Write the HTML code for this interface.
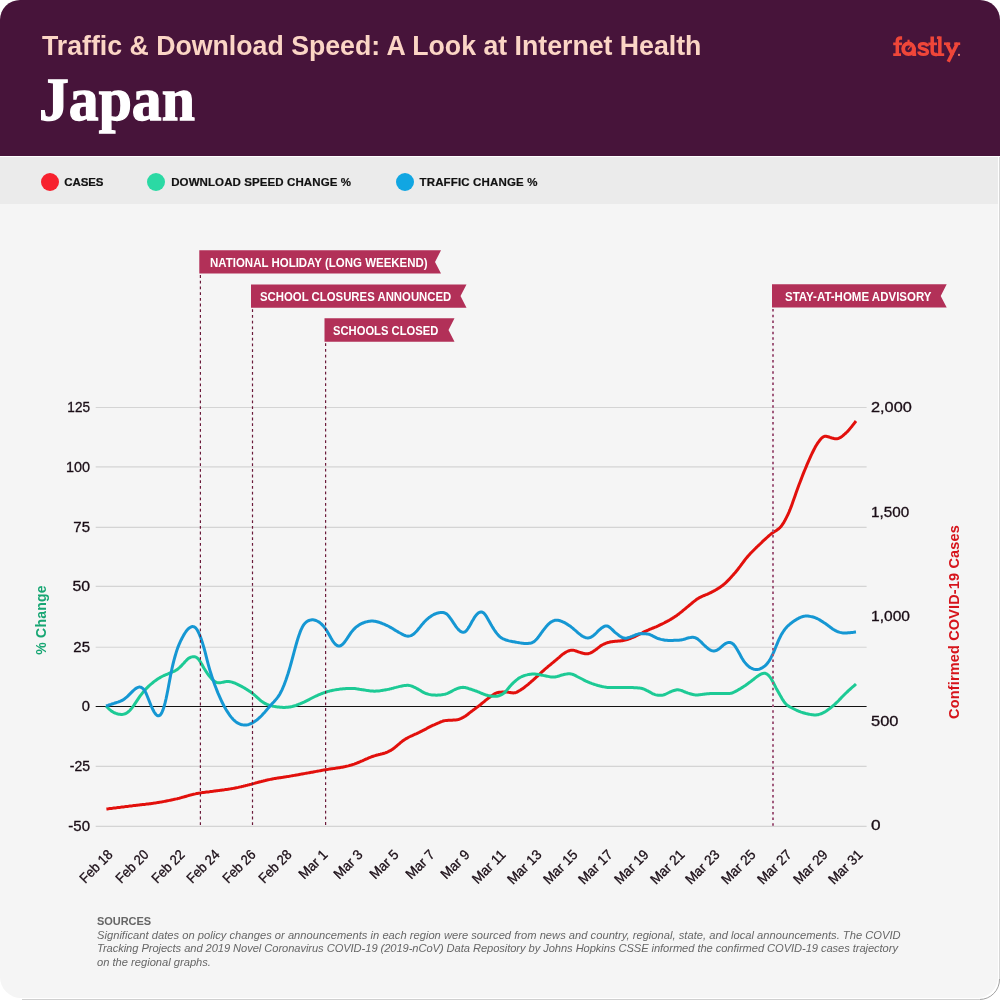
<!DOCTYPE html>
<html><head><meta charset="utf-8"><title>Japan</title>
<style>
html,body{margin:0;padding:0;background:#fff;}
body{width:1000px;height:1000px;position:relative;overflow:hidden;font-family:"Liberation Sans",sans-serif;}
.card{position:absolute;left:0;top:0;width:999px;height:993px;background:#f5f5f5;border-radius:20px;overflow:hidden;}
.hdr{position:absolute;left:0;top:0;width:1000px;height:156px;background:#47143a;border-radius:20px 20px 0 0;}
.leg{position:absolute;left:0;top:157px;width:998px;height:47.3px;background:#ebebeb;}
.t{position:absolute;white-space:nowrap;line-height:1;}
.title{left:42px;top:31px;font-size:28.5px;font-weight:bold;color:#fbd5c5;transform-origin:0 0;transform:scaleX(0.9365);}
.japan{left:39.3px;top:68.2px;font-family:"Liberation Serif",serif;font-size:62px;font-weight:bold;color:#fff;transform-origin:0 0;transform:scaleX(0.962);-webkit-text-stroke:1.3px #fff;}
.logo{left:892px;top:34px;font-size:27px;font-weight:bold;color:#ef4639;letter-spacing:-0.4px;}
.dot{position:absolute;width:18px;height:18px;border-radius:50%;top:173px;}
.lt{top:176.6px;font-size:11.5px;font-weight:bold;color:#111;-webkit-text-stroke:0.2px #111;}
.yl{font-size:14px;color:#1a0d16;-webkit-text-stroke:0.3px #1a0d16;text-align:right;width:60px;left:30px;}
.yr{font-size:14px;color:#1a0d16;-webkit-text-stroke:0.3px #1a0d16;left:870.6px;}
.xl{font-size:14px;color:#1a0d16;-webkit-text-stroke:0.3px #1a0d16;transform-origin:100% 50%;text-align:right;width:80px;}
.fl{font-size:12px;font-weight:bold;color:#fff;transform-origin:0 50%;}
.src{left:97px;color:#666;font-size:11.15px;}
</style></head><body>
<div class="hdr"></div>
<div class="card" style="top:157px;width:998px;height:841px;border-radius:0 0 21px 21px;"></div>
<div class="leg"></div>
<div style="position:absolute;left:999px;top:157px;width:1px;height:822px;background:#d6d6d6"></div>
<div style="position:absolute;left:22px;top:999px;width:957px;height:1px;background:#cfcfcf"></div>

<svg width="1000" height="1000" viewBox="0 0 1000 1000" style="position:absolute;left:0;top:0">
<line x1="95.7" x2="866.6" y1="407.50" y2="407.50" stroke="#d4d4d4" stroke-width="1.1"/>
<line x1="95.7" x2="866.6" y1="466.90" y2="466.90" stroke="#d4d4d4" stroke-width="1.1"/>
<line x1="95.7" x2="866.6" y1="527.40" y2="527.40" stroke="#d4d4d4" stroke-width="1.1"/>
<line x1="95.7" x2="866.6" y1="586.40" y2="586.40" stroke="#d4d4d4" stroke-width="1.1"/>
<line x1="95.7" x2="866.6" y1="647.20" y2="647.20" stroke="#d4d4d4" stroke-width="1.1"/>
<line x1="95.7" x2="866.6" y1="706.50" y2="706.50" stroke="#111" stroke-width="1"/>
<line x1="95.7" x2="866.6" y1="766.40" y2="766.40" stroke="#d4d4d4" stroke-width="1.1"/>
<line x1="95.7" x2="866.6" y1="826.40" y2="826.40" stroke="#d4d4d4" stroke-width="1.1"/>
<path d="M106.4,809.0L107.4,808.9L108.4,808.8L109.4,808.6L110.4,808.5L111.4,808.4L112.4,808.3L113.4,808.1L114.4,808.0L115.4,807.9L116.4,807.8L117.4,807.6L118.4,807.5L119.4,807.4L120.4,807.3L121.4,807.1L122.4,807.0L123.4,806.9L124.4,806.8L125.4,806.6L126.4,806.5L127.4,806.4L128.4,806.3L129.4,806.1L130.4,806.0L131.4,805.9L132.4,805.8L133.4,805.6L134.4,805.5L135.4,805.4L136.4,805.3L137.4,805.2L138.4,805.1L139.4,804.9L140.4,804.8L141.4,804.7L142.4,804.6L143.4,804.5L144.4,804.4L145.4,804.3L146.4,804.1L147.4,804.0L148.4,803.9L149.4,803.8L150.4,803.7L151.4,803.5L152.4,803.4L153.4,803.2L154.4,803.1L155.4,802.9L156.4,802.8L157.4,802.6L158.4,802.5L159.4,802.3L160.4,802.1L161.4,801.9L162.4,801.8L163.4,801.6L164.4,801.4L165.4,801.2L166.4,801.0L167.4,800.8L168.4,800.6L169.4,800.4L170.4,800.2L171.4,800.0L172.4,799.8L173.4,799.6L174.4,799.3L175.4,799.1L176.4,798.9L177.4,798.7L178.4,798.4L179.4,798.2L180.4,797.9L181.4,797.6L182.4,797.3L183.4,797.1L184.4,796.8L185.4,796.5L186.4,796.2L187.4,795.9L188.4,795.6L189.4,795.3L190.4,795.1L191.4,794.8L192.4,794.6L193.4,794.3L194.4,794.1L195.4,793.9L196.4,793.6L197.4,793.5L198.4,793.3L199.4,793.1L200.3,792.9L201.3,792.8L202.3,792.6L203.3,792.5L204.3,792.4L205.3,792.2L206.3,792.1L207.3,792.0L208.3,791.9L209.3,791.8L210.3,791.6L211.3,791.5L212.3,791.4L213.3,791.2L214.3,791.1L215.3,791.0L216.3,790.8L217.3,790.7L218.3,790.6L219.3,790.4L220.3,790.3L221.3,790.2L222.3,790.0L223.3,789.9L224.3,789.8L225.3,789.6L226.3,789.5L227.3,789.4L228.3,789.2L229.3,789.1L230.3,788.9L231.3,788.7L232.3,788.6L233.3,788.4L234.3,788.2L235.3,788.0L236.3,787.8L237.3,787.6L238.3,787.4L239.3,787.1L240.3,786.9L241.3,786.7L242.3,786.4L243.3,786.2L244.3,785.9L245.3,785.7L246.3,785.4L247.3,785.2L248.3,784.9L249.3,784.7L250.3,784.4L251.3,784.2L252.3,783.9L253.3,783.6L254.3,783.4L255.3,783.1L256.3,782.8L257.3,782.6L258.3,782.3L259.3,782.0L260.3,781.7L261.3,781.5L262.3,781.2L263.3,781.0L264.3,780.7L265.3,780.5L266.3,780.2L267.3,780.0L268.3,779.8L269.3,779.6L270.3,779.4L271.3,779.2L272.3,779.0L273.3,778.8L274.3,778.6L275.3,778.5L276.3,778.3L277.3,778.1L278.3,778.0L279.3,777.8L280.3,777.7L281.3,777.5L282.3,777.4L283.3,777.2L284.3,777.0L285.3,776.9L286.3,776.7L287.3,776.6L288.3,776.4L289.3,776.3L290.3,776.1L291.3,775.9L292.3,775.7L293.3,775.6L294.3,775.4L295.3,775.2L296.3,775.0L297.3,774.9L298.3,774.7L299.3,774.5L300.3,774.3L301.3,774.1L302.3,774.0L303.3,773.8L304.3,773.6L305.3,773.4L306.3,773.2L307.3,773.1L308.3,772.9L309.3,772.7L310.3,772.5L311.3,772.3L312.3,772.2L313.3,772.0L314.3,771.8L315.3,771.6L316.3,771.4L317.3,771.2L318.3,771.1L319.3,770.9L320.3,770.7L321.3,770.5L322.3,770.3L323.3,770.1L324.3,770.0L325.3,769.8L326.3,769.6L327.3,769.4L328.3,769.3L329.3,769.1L330.3,769.0L331.3,768.8L332.3,768.7L333.3,768.6L334.3,768.4L335.3,768.3L336.3,768.1L337.3,768.0L338.3,767.8L339.3,767.7L340.3,767.5L341.3,767.3L342.3,767.2L343.3,767.0L344.3,766.8L345.3,766.6L346.3,766.3L347.3,766.1L348.3,765.9L349.3,765.6L350.3,765.3L351.3,765.1L352.3,764.7L353.3,764.4L354.3,764.1L355.3,763.7L356.3,763.3L357.3,762.9L358.3,762.5L359.3,762.1L360.3,761.7L361.3,761.2L362.3,760.8L363.3,760.3L364.3,759.9L365.3,759.4L366.3,759.0L367.3,758.6L368.3,758.1L369.3,757.7L370.3,757.3L371.3,756.9L372.3,756.5L373.3,756.2L374.3,755.9L375.3,755.6L376.3,755.3L377.3,755.0L378.3,754.8L379.3,754.5L380.3,754.3L381.3,754.0L382.3,753.8L383.3,753.5L384.3,753.2L385.3,752.9L386.3,752.5L387.3,752.1L388.2,751.7L389.2,751.2L390.2,750.7L391.2,750.1L392.2,749.4L393.2,748.7L394.2,748.0L395.2,747.2L396.2,746.3L397.2,745.5L398.2,744.6L399.2,743.8L400.2,742.9L401.2,742.1L402.2,741.3L403.2,740.6L404.2,739.9L405.2,739.3L406.2,738.6L407.2,738.1L408.2,737.5L409.2,737.0L410.2,736.5L411.2,736.0L412.2,735.6L413.2,735.1L414.2,734.7L415.2,734.2L416.2,733.8L417.2,733.3L418.2,732.8L419.2,732.4L420.2,731.9L421.2,731.4L422.2,730.9L423.2,730.3L424.2,729.8L425.2,729.3L426.2,728.8L427.2,728.2L428.2,727.7L429.2,727.2L430.2,726.7L431.2,726.2L432.2,725.7L433.2,725.2L434.2,724.8L435.2,724.3L436.2,723.9L437.2,723.5L438.2,723.0L439.2,722.6L440.2,722.1L441.2,721.7L442.2,721.4L443.2,721.0L444.2,720.8L445.2,720.6L446.2,720.4L447.2,720.4L448.2,720.3L449.2,720.3L450.2,720.2L451.2,720.2L452.2,720.2L453.2,720.1L454.2,720.1L455.2,720.0L456.2,719.9L457.2,719.7L458.2,719.5L459.2,719.2L460.2,718.8L461.2,718.4L462.2,717.9L463.2,717.4L464.2,716.8L465.2,716.2L466.2,715.5L467.2,714.8L468.2,714.0L469.2,713.2L470.2,712.4L471.2,711.6L472.2,710.9L473.2,710.1L474.2,709.4L475.2,708.6L476.2,707.9L477.2,707.1L478.2,706.4L479.2,705.6L480.2,704.8L481.2,704.0L482.2,703.2L483.2,702.4L484.2,701.6L485.2,700.7L486.2,699.9L487.2,699.1L488.2,698.3L489.2,697.6L490.2,696.9L491.2,696.1L492.2,695.4L493.2,694.7L494.2,694.1L495.2,693.5L496.2,693.1L497.2,692.7L498.2,692.5L499.2,692.3L500.2,692.2L501.2,692.2L502.2,692.1L503.2,692.1L504.2,692.0L505.2,692.0L506.2,692.1L507.2,692.1L508.2,692.2L509.2,692.4L510.2,692.5L511.2,692.7L512.2,692.8L513.2,692.9L514.2,692.8L515.2,692.7L516.2,692.4L517.2,692.0L518.2,691.4L519.2,690.8L520.2,690.2L521.2,689.5L522.2,688.9L523.2,688.2L524.2,687.5L525.2,686.7L526.2,685.9L527.2,685.1L528.2,684.3L529.2,683.4L530.2,682.6L531.2,681.7L532.2,680.8L533.2,680.0L534.2,679.1L535.2,678.2L536.2,677.2L537.2,676.3L538.2,675.4L539.2,674.4L540.2,673.5L541.2,672.6L542.2,671.7L543.2,670.8L544.2,669.9L545.2,669.0L546.2,668.1L547.2,667.3L548.2,666.4L549.2,665.6L550.2,664.8L551.2,664.0L552.2,663.1L553.2,662.3L554.2,661.5L555.2,660.7L556.2,659.8L557.2,659.0L558.2,658.1L559.2,657.3L560.2,656.4L561.2,655.5L562.2,654.7L563.2,653.9L564.2,653.2L565.2,652.6L566.2,652.0L567.2,651.5L568.2,651.0L569.2,650.7L570.2,650.4L571.2,650.2L572.2,650.2L573.2,650.2L574.2,650.4L575.1,650.7L576.1,651.0L577.1,651.4L578.1,651.8L579.1,652.1L580.1,652.4L581.1,652.7L582.1,653.0L583.1,653.3L584.1,653.5L585.1,653.7L586.1,653.8L587.1,653.8L588.1,653.7L589.1,653.4L590.1,653.1L591.1,652.6L592.1,652.1L593.1,651.5L594.1,650.8L595.1,650.2L596.1,649.4L597.1,648.7L598.1,647.9L599.1,647.1L600.1,646.3L601.1,645.6L602.1,645.0L603.1,644.5L604.1,644.0L605.1,643.6L606.1,643.2L607.1,642.8L608.1,642.5L609.1,642.3L610.1,642.0L611.1,641.8L612.1,641.7L613.1,641.5L614.1,641.4L615.1,641.3L616.1,641.3L617.1,641.2L618.1,641.1L619.1,641.0L620.1,641.0L621.1,640.8L622.1,640.7L623.1,640.5L624.1,640.3L625.1,640.1L626.1,639.8L627.1,639.5L628.1,639.2L629.1,638.9L630.1,638.5L631.1,638.1L632.1,637.7L633.1,637.3L634.1,636.9L635.1,636.5L636.1,636.0L637.1,635.5L638.1,635.0L639.1,634.5L640.1,634.0L641.1,633.5L642.1,633.0L643.1,632.4L644.1,631.9L645.1,631.4L646.1,631.0L647.1,630.5L648.1,630.1L649.1,629.6L650.1,629.2L651.1,628.8L652.1,628.4L653.1,628.0L654.1,627.6L655.1,627.2L656.1,626.8L657.1,626.3L658.1,625.9L659.1,625.4L660.1,624.9L661.1,624.4L662.1,624.0L663.1,623.5L664.1,623.0L665.1,622.4L666.1,621.9L667.1,621.4L668.1,620.8L669.1,620.3L670.1,619.7L671.1,619.1L672.1,618.5L673.1,617.9L674.1,617.3L675.1,616.6L676.1,615.9L677.1,615.2L678.1,614.4L679.1,613.7L680.1,612.9L681.1,612.1L682.1,611.3L683.1,610.4L684.1,609.6L685.1,608.8L686.1,608.0L687.1,607.1L688.1,606.3L689.1,605.5L690.1,604.7L691.1,603.8L692.1,603.0L693.1,602.2L694.1,601.4L695.1,600.6L696.1,599.8L697.1,599.1L698.1,598.5L699.1,597.9L700.1,597.3L701.1,596.8L702.1,596.3L703.1,595.9L704.1,595.5L705.1,595.1L706.1,594.7L707.1,594.3L708.1,593.8L709.1,593.4L710.1,592.9L711.1,592.5L712.1,591.9L713.1,591.4L714.1,590.8L715.1,590.3L716.1,589.7L717.1,589.1L718.1,588.5L719.1,587.9L720.1,587.2L721.1,586.5L722.1,585.8L723.1,585.0L724.1,584.2L725.1,583.3L726.1,582.4L727.1,581.4L728.1,580.4L729.1,579.4L730.1,578.3L731.1,577.2L732.1,576.1L733.1,575.0L734.1,573.8L735.1,572.7L736.1,571.5L737.1,570.3L738.1,569.0L739.1,567.7L740.1,566.4L741.1,565.0L742.1,563.7L743.1,562.3L744.1,561.0L745.1,559.7L746.1,558.4L747.1,557.2L748.1,556.0L749.1,554.9L750.1,553.8L751.1,552.7L752.1,551.7L753.1,550.7L754.1,549.7L755.1,548.7L756.1,547.7L757.1,546.8L758.1,545.8L759.1,544.9L760.1,544.0L761.1,543.0L762.1,542.1L763.0,541.1L764.0,540.2L765.0,539.3L766.0,538.4L767.0,537.5L768.0,536.6L769.0,535.7L770.0,534.9L771.0,534.0L772.0,533.3L773.0,532.5L774.0,531.9L775.0,531.3L776.0,530.7L777.0,530.0L778.0,529.3L779.0,528.5L780.0,527.6L781.0,526.5L782.0,525.2L783.0,523.7L784.0,522.1L785.0,520.3L786.0,518.4L787.0,516.4L788.0,514.3L789.0,512.1L790.0,509.7L791.0,507.1L792.0,504.4L793.0,501.6L794.0,498.8L795.0,495.9L796.0,493.0L797.0,490.2L798.0,487.5L799.0,484.8L800.0,482.2L801.0,479.6L802.0,477.0L803.0,474.4L804.0,471.9L805.0,469.5L806.0,467.1L807.0,464.7L808.0,462.4L809.0,460.1L810.0,457.9L811.0,455.7L812.0,453.5L813.0,451.5L814.0,449.5L815.0,447.6L816.0,445.8L817.0,444.2L818.0,442.7L819.0,441.3L820.0,439.9L821.0,438.8L822.0,437.8L823.0,437.0L824.0,436.5L825.0,436.3L826.0,436.3L827.0,436.5L828.0,436.7L829.0,437.0L830.0,437.4L831.0,437.7L832.0,438.0L833.0,438.2L834.0,438.5L835.0,438.7L836.0,438.8L837.0,438.8L838.0,438.6L839.0,438.2L840.0,437.7L841.0,437.1L842.0,436.4L843.0,435.6L844.0,434.7L845.0,433.9L846.0,432.9L847.0,432.0L848.0,430.9L849.0,429.8L850.0,428.6L851.0,427.4L852.0,426.2L853.0,424.9L854.0,423.6L855.0,422.3L856.0,421.0" fill="none" stroke="#e2100c" stroke-width="3" stroke-linecap="butt" stroke-linejoin="round"/>
<path d="M106.0,706.0L107.0,707.0L108.0,708.0L109.0,709.0L110.0,709.9L111.0,710.7L112.0,711.4L113.0,712.0L114.0,712.6L115.0,713.0L116.0,713.4L117.0,713.7L118.0,714.0L119.0,714.2L120.0,714.3L121.0,714.4L122.0,714.4L123.0,714.3L124.0,714.1L125.0,713.8L126.0,713.4L127.0,712.8L128.0,712.1L129.0,711.2L130.0,710.2L131.0,709.1L132.0,707.9L133.0,706.5L134.0,705.1L135.0,703.6L136.0,702.1L137.0,700.6L138.0,699.1L139.0,697.6L140.0,696.2L141.0,694.9L142.0,693.6L143.0,692.3L144.0,691.1L145.0,690.0L146.0,688.9L147.0,687.9L148.0,686.9L149.0,685.9L150.0,685.0L151.0,684.1L152.0,683.3L153.0,682.5L154.0,681.7L155.0,680.9L156.0,680.2L157.0,679.5L158.0,678.8L159.0,678.2L160.0,677.6L161.0,677.0L162.0,676.5L163.0,676.0L164.0,675.5L165.0,675.1L166.0,674.7L167.0,674.3L168.0,673.9L169.0,673.4L170.0,673.0L171.0,672.6L172.0,672.1L173.0,671.7L174.0,671.3L175.0,670.8L176.0,670.2L177.0,669.6L178.0,668.9L179.0,668.0L180.0,667.1L181.0,666.1L182.0,665.1L183.0,664.0L184.0,663.0L185.0,661.8L186.0,660.8L187.0,659.7L188.0,658.8L189.0,658.1L190.0,657.6L191.0,657.1L192.0,656.9L193.0,656.7L194.0,656.7L195.0,656.8L196.0,657.2L197.0,657.8L198.0,658.7L199.0,659.9L200.0,661.3L201.0,662.9L202.0,664.6L203.0,666.4L204.0,668.2L205.0,669.8L206.0,671.4L207.0,672.9L208.0,674.3L209.0,675.7L210.0,676.9L211.0,678.1L212.0,679.1L213.0,680.1L214.0,681.0L215.0,681.7L216.0,682.2L217.0,682.6L218.0,682.8L219.0,682.8L220.0,682.8L221.0,682.6L222.0,682.4L223.0,682.2L224.0,682.0L225.0,681.8L226.0,681.6L227.0,681.5L228.0,681.5L229.0,681.6L230.0,681.7L231.0,681.9L232.0,682.1L233.0,682.5L234.0,682.8L235.0,683.2L236.0,683.7L237.0,684.1L238.0,684.6L239.0,685.1L240.0,685.6L241.0,686.1L242.0,686.6L243.0,687.2L244.0,687.8L245.0,688.4L246.0,689.0L247.0,689.6L248.0,690.2L249.0,690.9L250.0,691.6L251.0,692.3L252.0,693.1L253.0,693.8L254.0,694.6L255.0,695.5L256.0,696.4L257.0,697.3L258.0,698.2L259.0,699.1L260.0,700.0L261.0,700.8L262.0,701.6L263.0,702.3L264.0,702.9L265.0,703.5L266.0,703.9L267.0,704.4L268.0,704.8L269.0,705.1L270.0,705.4L271.0,705.7L272.0,705.9L273.0,706.2L274.0,706.4L275.0,706.6L276.0,706.7L277.0,706.9L278.0,707.0L279.0,707.1L280.0,707.2L281.0,707.3L282.0,707.3L283.0,707.4L284.0,707.4L285.0,707.4L286.0,707.3L287.0,707.3L288.0,707.2L289.0,707.1L290.0,707.0L291.0,706.8L292.0,706.6L293.0,706.3L294.0,706.0L295.0,705.7L296.0,705.4L297.0,705.0L298.0,704.6L299.0,704.2L300.0,703.8L301.0,703.4L302.0,703.0L303.0,702.5L304.0,702.1L305.0,701.6L306.0,701.1L307.0,700.6L308.0,700.1L309.0,699.6L310.0,699.0L311.0,698.5L312.0,698.0L313.0,697.5L314.0,697.0L315.0,696.5L316.0,696.0L317.0,695.6L318.0,695.1L319.0,694.7L320.0,694.3L321.0,693.9L322.0,693.5L323.0,693.1L324.0,692.7L325.0,692.4L326.0,692.0L327.0,691.7L328.0,691.4L329.0,691.2L330.0,690.9L331.0,690.7L332.0,690.5L333.0,690.3L334.0,690.1L335.0,689.9L336.0,689.7L337.0,689.6L338.0,689.4L339.0,689.3L340.0,689.1L341.0,689.0L342.0,688.9L343.0,688.8L344.0,688.7L345.0,688.7L346.0,688.6L347.0,688.5L348.0,688.5L349.0,688.5L350.0,688.4L351.0,688.4L352.0,688.4L353.0,688.5L354.0,688.5L355.0,688.6L356.0,688.7L357.0,688.9L358.0,689.0L359.0,689.2L360.0,689.4L361.0,689.5L362.0,689.7L363.0,689.8L364.0,690.0L365.0,690.1L366.0,690.3L367.0,690.4L368.0,690.6L369.0,690.7L370.0,690.9L371.0,691.0L372.0,691.1L373.0,691.1L374.0,691.2L375.0,691.2L376.0,691.1L377.0,691.1L378.0,691.0L379.0,690.9L380.0,690.8L381.0,690.6L382.0,690.5L383.0,690.3L384.0,690.1L385.0,690.0L386.0,689.8L387.0,689.6L388.0,689.4L389.0,689.2L390.0,688.9L391.0,688.7L392.0,688.4L393.0,688.2L394.0,687.9L395.0,687.6L396.0,687.4L397.0,687.1L398.0,686.9L399.0,686.6L400.0,686.4L401.0,686.2L402.0,686.0L403.0,685.8L404.0,685.6L405.0,685.5L406.0,685.4L407.0,685.3L408.0,685.3L409.0,685.4L410.0,685.6L411.0,685.9L412.0,686.2L413.0,686.6L414.0,687.1L415.0,687.5L416.0,688.0L417.0,688.6L418.0,689.1L419.0,689.7L420.0,690.3L421.0,690.9L422.0,691.6L423.0,692.1L424.0,692.7L425.0,693.1L426.0,693.5L427.0,693.8L428.0,694.1L429.0,694.4L430.0,694.6L431.0,694.8L432.0,694.9L433.0,695.0L434.0,695.1L435.0,695.1L436.0,695.2L437.0,695.2L438.0,695.1L439.0,695.1L440.0,695.0L441.0,694.9L442.0,694.7L443.0,694.6L444.0,694.4L445.0,694.2L446.0,693.9L447.0,693.6L448.0,693.2L449.0,692.7L450.0,692.2L451.0,691.6L452.0,691.1L453.0,690.5L454.0,690.0L455.0,689.5L456.0,689.1L457.0,688.7L458.0,688.3L459.0,688.0L460.0,687.7L461.0,687.5L462.0,687.4L463.0,687.3L464.0,687.4L465.0,687.5L466.0,687.8L467.0,688.0L468.0,688.3L469.0,688.7L470.0,689.0L471.0,689.3L472.0,689.6L473.0,690.0L474.0,690.3L475.0,690.7L476.0,691.0L477.0,691.4L478.0,691.8L479.0,692.2L480.0,692.7L481.0,693.1L482.0,693.5L483.0,693.9L484.0,694.3L485.0,694.6L486.0,695.0L487.0,695.2L488.0,695.5L489.0,695.7L490.0,695.9L491.0,696.0L492.0,696.2L493.0,696.3L494.0,696.3L495.0,696.3L496.0,696.3L497.0,696.2L498.0,696.0L499.0,695.7L500.0,695.4L501.0,694.9L502.0,694.4L503.0,693.8L504.0,693.1L505.0,692.1L506.0,691.1L507.0,689.9L508.0,688.7L509.0,687.5L510.0,686.3L511.0,685.2L512.0,684.1L513.0,683.1L514.0,682.2L515.0,681.3L516.0,680.4L517.0,679.6L518.0,678.8L519.0,678.1L520.0,677.5L521.0,677.0L522.0,676.5L523.0,676.1L524.0,675.7L525.0,675.4L526.0,675.1L527.0,674.9L528.0,674.6L529.0,674.5L530.0,674.3L531.0,674.2L532.0,674.1L533.0,674.1L534.0,674.1L535.0,674.1L536.0,674.2L537.0,674.3L538.0,674.4L539.0,674.6L540.0,674.8L541.0,675.0L542.0,675.2L543.0,675.4L544.0,675.6L545.0,675.8L546.0,676.0L547.0,676.2L548.0,676.4L549.0,676.6L550.0,676.8L551.0,676.9L552.0,677.0L553.0,677.1L554.0,677.1L555.0,677.0L556.0,676.8L557.0,676.6L558.0,676.3L559.0,676.0L560.0,675.6L561.0,675.3L562.0,675.0L563.0,674.8L564.0,674.5L565.0,674.3L566.0,674.1L567.0,673.9L568.0,673.8L569.0,673.7L570.0,673.8L571.0,673.9L572.0,674.1L573.0,674.5L574.0,674.9L575.0,675.4L576.0,675.9L577.0,676.5L578.0,677.0L579.0,677.5L580.0,678.0L581.0,678.5L582.0,679.0L583.0,679.5L584.0,680.1L585.0,680.6L586.0,681.1L587.0,681.5L588.0,682.0L589.0,682.4L590.0,682.8L591.0,683.2L592.0,683.6L593.0,683.9L594.0,684.3L595.0,684.6L596.0,684.9L597.0,685.2L598.0,685.5L599.0,685.7L600.0,686.0L601.0,686.2L602.0,686.5L603.0,686.7L604.0,686.9L605.0,687.1L606.0,687.2L607.0,687.4L608.0,687.5L609.0,687.5L610.0,687.6L611.0,687.6L612.0,687.6L613.0,687.6L614.0,687.6L615.0,687.6L616.0,687.6L617.0,687.6L618.0,687.6L619.0,687.6L620.0,687.6L621.0,687.6L622.0,687.6L623.0,687.6L624.0,687.6L625.0,687.6L626.0,687.6L627.0,687.6L628.0,687.6L629.0,687.6L630.0,687.6L631.0,687.6L632.0,687.6L633.0,687.6L634.0,687.7L635.0,687.7L636.0,687.8L637.0,687.8L638.0,687.9L639.0,688.0L640.0,688.1L641.0,688.3L642.0,688.5L643.0,688.8L644.0,689.2L645.0,689.6L646.0,690.1L647.0,690.6L648.0,691.0L649.0,691.6L650.0,692.1L651.0,692.7L652.0,693.3L653.0,693.8L654.0,694.2L655.0,694.6L656.0,694.9L657.0,695.1L658.0,695.2L659.0,695.3L660.0,695.3L661.0,695.3L662.0,695.3L663.0,695.1L664.0,694.8L665.0,694.5L666.0,694.0L667.0,693.5L668.0,693.0L669.0,692.5L670.0,692.0L671.0,691.6L672.0,691.2L673.0,690.8L674.0,690.5L675.0,690.2L676.0,690.0L677.0,689.8L678.0,689.8L679.0,689.9L680.0,690.1L681.0,690.4L682.0,690.7L683.0,691.2L684.0,691.6L685.0,692.0L686.0,692.4L687.0,692.7L688.0,693.1L689.0,693.4L690.0,693.7L691.0,694.0L692.0,694.3L693.0,694.6L694.0,694.7L695.0,694.9L696.0,694.9L697.0,694.9L698.0,694.9L699.0,694.8L700.0,694.7L701.0,694.6L702.0,694.4L703.0,694.3L704.0,694.2L705.0,694.0L706.0,693.9L707.0,693.8L708.0,693.7L709.0,693.7L710.0,693.6L711.0,693.6L712.0,693.6L713.0,693.6L714.0,693.6L715.0,693.6L716.0,693.6L717.0,693.6L718.0,693.6L719.0,693.6L720.0,693.6L721.0,693.6L722.0,693.6L723.0,693.6L724.0,693.6L725.0,693.6L726.0,693.6L727.0,693.5L728.0,693.5L729.0,693.5L730.0,693.4L731.0,693.2L732.0,693.0L733.0,692.6L734.0,692.2L735.0,691.7L736.0,691.1L737.0,690.6L738.0,690.0L739.0,689.4L740.0,688.9L741.0,688.3L742.0,687.6L743.0,687.0L744.0,686.3L745.0,685.7L746.0,685.0L747.0,684.3L748.0,683.5L749.0,682.8L750.0,682.1L751.0,681.3L752.0,680.5L753.0,679.8L754.0,679.0L755.0,678.2L756.0,677.4L757.0,676.6L758.0,675.9L759.0,675.2L760.0,674.6L761.0,674.1L762.0,673.7L763.0,673.4L764.0,673.3L765.0,673.3L766.0,673.6L767.0,674.1L768.0,674.9L769.0,675.8L770.0,677.1L771.0,678.5L772.0,680.2L773.0,682.0L774.0,684.0L775.0,685.9L776.0,687.9L777.0,689.7L778.0,691.5L779.0,693.3L780.0,695.1L781.0,696.8L782.0,698.6L783.0,700.2L784.0,701.7L785.0,703.0L786.0,704.1L787.0,705.0L788.0,705.8L789.0,706.4L790.0,707.0L791.0,707.5L792.0,708.0L793.0,708.5L794.0,709.0L795.0,709.5L796.0,710.0L797.0,710.5L798.0,710.9L799.0,711.3L800.0,711.7L801.0,712.1L802.0,712.4L803.0,712.7L804.0,713.0L805.0,713.3L806.0,713.6L807.0,713.8L808.0,714.0L809.0,714.2L810.0,714.4L811.0,714.6L812.0,714.7L813.0,714.8L814.0,714.9L815.0,714.9L816.0,714.9L817.0,714.8L818.0,714.7L819.0,714.4L820.0,714.1L821.0,713.8L822.0,713.3L823.0,712.9L824.0,712.3L825.0,711.8L826.0,711.2L827.0,710.5L828.0,709.8L829.0,709.1L830.0,708.3L831.0,707.5L832.0,706.7L833.0,705.8L834.0,705.0L835.0,704.1L836.0,703.1L837.0,702.2L838.0,701.2L839.0,700.2L840.0,699.1L841.0,698.1L842.0,697.0L843.0,696.0L844.0,695.0L845.0,694.0L846.0,693.0L847.0,692.1L848.0,691.1L849.0,690.2L850.0,689.3L851.0,688.4L852.0,687.5L853.0,686.6L854.0,685.8L855.0,684.9L856.0,684.0" fill="none" stroke="#1dca95" stroke-width="3" stroke-linecap="butt" stroke-linejoin="round"/>
<path d="M106.0,706.0L107.0,705.7L108.0,705.4L109.0,705.0L110.0,704.7L111.0,704.4L112.0,704.0L113.0,703.7L114.0,703.4L115.0,703.0L116.0,702.7L117.0,702.4L118.0,702.1L119.0,701.7L120.0,701.4L121.0,700.9L122.0,700.5L123.0,699.9L124.0,699.2L125.0,698.5L126.0,697.6L127.0,696.8L128.0,695.9L129.0,694.9L130.0,693.9L131.0,692.9L132.0,691.9L133.0,690.9L134.0,690.0L135.0,689.1L136.0,688.4L137.0,687.8L138.0,687.4L139.0,687.1L140.0,687.1L141.0,687.3L142.0,687.8L143.0,688.6L144.0,689.7L145.0,691.2L146.0,693.2L147.0,695.5L148.0,698.0L149.0,700.5L150.0,703.0L151.0,705.5L152.0,707.7L153.0,709.8L154.0,711.7L155.0,713.3L156.0,714.5L157.0,715.4L158.0,715.8L159.0,715.7L160.0,715.2L161.0,714.0L162.0,712.2L163.0,709.9L164.0,706.8L165.0,703.2L166.0,699.0L167.0,694.3L168.0,689.2L169.0,683.8L170.0,678.5L171.0,673.3L172.0,668.5L173.0,664.1L174.0,660.1L175.0,656.5L176.0,653.1L177.0,649.9L178.0,647.1L179.0,644.6L180.0,642.3L181.0,640.2L182.0,638.3L183.0,636.4L184.0,634.6L185.0,633.0L186.0,631.5L187.0,630.2L188.0,629.1L189.0,628.2L190.0,627.5L191.0,627.0L192.0,626.6L193.0,626.6L194.0,626.8L195.0,627.3L196.0,628.3L197.0,629.6L198.0,631.4L199.0,633.5L200.0,635.9L201.0,638.5L202.0,641.4L203.0,644.6L204.0,648.0L205.0,651.7L206.0,655.7L207.0,659.6L208.0,663.5L209.0,667.2L210.0,670.6L211.0,673.8L212.0,676.9L213.0,679.8L214.0,682.7L215.0,685.4L216.0,688.0L217.0,690.6L218.0,693.1L219.0,695.4L220.0,697.7L221.0,699.9L222.0,702.0L223.0,704.0L224.0,705.9L225.0,707.7L226.0,709.5L227.0,711.2L228.0,712.7L229.0,714.2L230.0,715.6L231.0,716.9L232.0,718.1L233.0,719.2L234.0,720.2L235.0,721.1L236.0,721.9L237.0,722.6L238.0,723.2L239.0,723.7L240.0,724.1L241.0,724.5L242.0,724.7L243.0,724.9L244.0,725.1L245.0,725.1L246.0,725.0L247.0,724.9L248.0,724.7L249.0,724.4L250.0,724.0L251.0,723.5L252.0,723.1L253.0,722.5L254.0,721.9L255.0,721.3L256.0,720.6L257.0,719.8L258.0,719.0L259.0,718.1L260.0,717.2L261.0,716.2L262.0,715.2L263.0,714.1L264.0,713.0L265.0,711.9L266.0,710.7L267.0,709.6L268.0,708.4L269.0,707.2L270.0,706.0L271.0,704.9L272.0,703.8L273.0,702.7L274.0,701.7L275.0,700.6L276.0,699.4L277.0,698.2L278.0,696.9L279.0,695.4L280.0,693.7L281.0,691.8L282.0,689.8L283.0,687.5L284.0,685.1L285.0,682.5L286.0,679.8L287.0,676.8L288.0,673.8L289.0,670.5L290.0,667.1L291.0,663.5L292.0,659.9L293.0,656.1L294.0,652.4L295.0,648.6L296.0,645.0L297.0,641.5L298.0,638.2L299.0,635.2L300.0,632.4L301.0,629.9L302.0,627.8L303.0,625.9L304.0,624.4L305.0,623.2L306.0,622.2L307.0,621.5L308.0,620.9L309.0,620.5L310.0,620.1L311.0,619.9L312.0,619.8L313.0,619.8L314.0,619.9L315.0,620.2L316.0,620.5L317.0,621.0L318.0,621.5L319.0,622.1L320.0,622.8L321.0,623.6L322.0,624.6L323.0,625.6L324.0,626.8L325.0,628.1L326.0,629.5L327.0,631.1L328.0,632.7L329.0,634.5L330.0,636.3L331.0,638.1L332.0,639.8L333.0,641.4L334.0,642.7L335.0,643.9L336.0,644.8L337.0,645.5L338.0,645.9L339.0,646.0L340.0,645.9L341.0,645.5L342.0,644.8L343.0,643.9L344.0,642.8L345.0,641.5L346.0,640.1L347.0,638.7L348.0,637.2L349.0,635.7L350.0,634.2L351.0,632.7L352.0,631.4L353.0,630.2L354.0,629.1L355.0,628.1L356.0,627.2L357.0,626.4L358.0,625.7L359.0,625.0L360.0,624.4L361.0,623.9L362.0,623.4L363.0,623.0L364.0,622.6L365.0,622.2L366.0,621.9L367.0,621.7L368.0,621.4L369.0,621.3L370.0,621.2L371.0,621.1L372.0,621.1L373.0,621.1L374.0,621.2L375.0,621.3L376.0,621.5L377.0,621.7L378.0,622.0L379.0,622.3L380.0,622.6L381.0,623.0L382.0,623.4L383.0,623.8L384.0,624.2L385.0,624.6L386.0,625.1L387.0,625.5L388.0,626.0L389.0,626.5L390.0,627.1L391.0,627.6L392.0,628.2L393.0,628.8L394.0,629.5L395.0,630.1L396.0,630.7L397.0,631.3L398.0,631.9L399.0,632.5L400.0,633.0L401.0,633.5L402.0,634.1L403.0,634.6L404.0,635.1L405.0,635.5L406.0,635.9L407.0,636.1L408.0,636.2L409.0,636.1L410.0,635.9L411.0,635.6L412.0,635.1L413.0,634.4L414.0,633.7L415.0,632.8L416.0,631.8L417.0,630.7L418.0,629.5L419.0,628.3L420.0,627.1L421.0,625.8L422.0,624.6L423.0,623.5L424.0,622.3L425.0,621.3L426.0,620.3L427.0,619.3L428.0,618.5L429.0,617.6L430.0,616.9L431.0,616.2L432.0,615.5L433.0,615.0L434.0,614.4L435.0,614.0L436.0,613.6L437.0,613.2L438.0,613.0L439.0,612.8L440.0,612.6L441.0,612.5L442.0,612.5L443.0,612.5L444.0,612.7L445.0,613.1L446.0,613.6L447.0,614.3L448.0,615.3L449.0,616.4L450.0,617.8L451.0,619.2L452.0,620.6L453.0,622.1L454.0,623.7L455.0,625.1L456.0,626.6L457.0,627.9L458.0,629.1L459.0,630.1L460.0,631.0L461.0,631.7L462.0,632.1L463.0,632.3L464.0,632.2L465.0,631.8L466.0,631.0L467.0,629.9L468.0,628.5L469.0,626.9L470.0,625.2L471.0,623.4L472.0,621.6L473.0,619.9L474.0,618.2L475.0,616.7L476.0,615.3L477.0,614.2L478.0,613.3L479.0,612.6L480.0,612.2L481.0,612.0L482.0,612.1L483.0,612.6L484.0,613.3L485.0,614.4L486.0,615.8L487.0,617.5L488.0,619.2L489.0,621.0L490.0,622.8L491.0,624.6L492.0,626.3L493.0,627.9L494.0,629.5L495.0,631.0L496.0,632.3L497.0,633.6L498.0,634.8L499.0,635.9L500.0,636.8L501.0,637.6L502.0,638.2L503.0,638.8L504.0,639.2L505.0,639.6L506.0,640.0L507.0,640.3L508.0,640.6L509.0,640.9L510.0,641.1L511.0,641.3L512.0,641.5L513.0,641.7L514.0,641.8L515.0,642.0L516.0,642.2L517.0,642.4L518.0,642.6L519.0,642.7L520.0,642.9L521.0,643.1L522.0,643.2L523.0,643.3L524.0,643.4L525.0,643.4L526.0,643.5L527.0,643.5L528.0,643.4L529.0,643.3L530.0,643.2L531.0,643.0L532.0,642.7L533.0,642.2L534.0,641.6L535.0,640.8L536.0,639.8L537.0,638.7L538.0,637.5L539.0,636.2L540.0,634.8L541.0,633.4L542.0,632.0L543.0,630.7L544.0,629.4L545.0,628.1L546.0,626.8L547.0,625.7L548.0,624.6L549.0,623.7L550.0,622.8L551.0,622.1L552.0,621.5L553.0,621.0L554.0,620.6L555.0,620.3L556.0,620.2L557.0,620.2L558.0,620.3L559.0,620.5L560.0,620.8L561.0,621.1L562.0,621.5L563.0,622.0L564.0,622.4L565.0,622.9L566.0,623.5L567.0,624.1L568.0,624.7L569.0,625.4L570.0,626.1L571.0,626.8L572.0,627.6L573.0,628.4L574.0,629.3L575.0,630.1L576.0,631.0L577.0,631.9L578.0,632.8L579.0,633.6L580.0,634.4L581.0,635.2L582.0,635.9L583.0,636.5L584.0,637.0L585.0,637.4L586.0,637.7L587.0,637.9L588.0,638.0L589.0,637.8L590.0,637.5L591.0,637.1L592.0,636.5L593.0,635.9L594.0,635.1L595.0,634.2L596.0,633.2L597.0,632.2L598.0,631.1L599.0,630.2L600.0,629.3L601.0,628.5L602.0,627.7L603.0,627.1L604.0,626.5L605.0,626.1L606.0,626.0L607.0,626.0L608.0,626.3L609.0,626.9L610.0,627.6L611.0,628.5L612.0,629.4L613.0,630.4L614.0,631.4L615.0,632.3L616.0,633.1L617.0,633.9L618.0,634.7L619.0,635.5L620.0,636.2L621.0,636.8L622.0,637.4L623.0,637.8L624.0,638.1L625.0,638.2L626.0,638.2L627.0,638.0L628.0,637.7L629.0,637.4L630.0,637.1L631.0,636.7L632.0,636.4L633.0,636.0L634.0,635.6L635.0,635.2L636.0,634.7L637.0,634.4L638.0,634.1L639.0,633.8L640.0,633.7L641.0,633.7L642.0,633.6L643.0,633.7L644.0,633.7L645.0,633.8L646.0,633.8L647.0,634.0L648.0,634.1L649.0,634.3L650.0,634.6L651.0,635.1L652.0,635.5L653.0,636.1L654.0,636.6L655.0,637.1L656.0,637.6L657.0,638.1L658.0,638.5L659.0,638.8L660.0,639.1L661.0,639.4L662.0,639.6L663.0,639.8L664.0,640.0L665.0,640.2L666.0,640.3L667.0,640.3L668.0,640.4L669.0,640.4L670.0,640.4L671.0,640.4L672.0,640.4L673.0,640.4L674.0,640.3L675.0,640.3L676.0,640.3L677.0,640.3L678.0,640.3L679.0,640.2L680.0,640.1L681.0,640.0L682.0,639.8L683.0,639.6L684.0,639.3L685.0,639.0L686.0,638.6L687.0,638.3L688.0,638.0L689.0,637.8L690.0,637.6L691.0,637.4L692.0,637.3L693.0,637.3L694.0,637.4L695.0,637.6L696.0,638.1L697.0,638.6L698.0,639.3L699.0,640.1L700.0,641.0L701.0,641.9L702.0,642.9L703.0,644.0L704.0,645.0L705.0,645.9L706.0,646.9L707.0,647.7L708.0,648.5L709.0,649.2L710.0,649.8L711.0,650.3L712.0,650.7L713.0,650.9L714.0,651.0L715.0,650.8L716.0,650.5L717.0,650.1L718.0,649.5L719.0,648.9L720.0,648.1L721.0,647.2L722.0,646.3L723.0,645.4L724.0,644.6L725.0,643.9L726.0,643.3L727.0,642.9L728.0,642.6L729.0,642.5L730.0,642.5L731.0,642.8L732.0,643.2L733.0,643.9L734.0,644.9L735.0,646.2L736.0,647.7L737.0,649.3L738.0,651.0L739.0,652.8L740.0,654.6L741.0,656.4L742.0,658.2L743.0,659.8L744.0,661.3L745.0,662.6L746.0,663.8L747.0,664.9L748.0,665.8L749.0,666.7L750.0,667.4L751.0,668.0L752.0,668.5L753.0,668.9L754.0,669.2L755.0,669.4L756.0,669.5L757.0,669.5L758.0,669.4L759.0,669.2L760.0,668.9L761.0,668.4L762.0,667.9L763.0,667.3L764.0,666.6L765.0,665.8L766.0,664.9L767.0,663.8L768.0,662.5L769.0,661.1L770.0,659.5L771.0,657.7L772.0,655.7L773.0,653.6L774.0,651.3L775.0,648.9L776.0,646.5L777.0,644.1L778.0,641.7L779.0,639.4L780.0,637.3L781.0,635.3L782.0,633.6L783.0,632.0L784.0,630.5L785.0,629.2L786.0,627.9L787.0,626.8L788.0,625.8L789.0,624.9L790.0,624.1L791.0,623.2L792.0,622.5L793.0,621.7L794.0,621.0L795.0,620.4L796.0,619.7L797.0,619.1L798.0,618.6L799.0,618.0L800.0,617.6L801.0,617.2L802.0,616.8L803.0,616.5L804.0,616.3L805.0,616.1L806.0,616.1L807.0,616.1L808.0,616.1L809.0,616.2L810.0,616.4L811.0,616.6L812.0,616.8L813.0,617.0L814.0,617.3L815.0,617.7L816.0,618.1L817.0,618.5L818.0,619.0L819.0,619.5L820.0,620.1L821.0,620.7L822.0,621.4L823.0,622.0L824.0,622.7L825.0,623.3L826.0,624.0L827.0,624.7L828.0,625.5L829.0,626.2L830.0,627.0L831.0,627.7L832.0,628.5L833.0,629.2L834.0,629.8L835.0,630.4L836.0,630.9L837.0,631.4L838.0,631.8L839.0,632.1L840.0,632.4L841.0,632.6L842.0,632.8L843.0,632.9L844.0,632.9L845.0,633.0L846.0,632.9L847.0,632.9L848.0,632.8L849.0,632.8L850.0,632.7L851.0,632.6L852.0,632.5L853.0,632.4L854.0,632.2L855.0,632.1L856.0,632.0" fill="none" stroke="#1597d3" stroke-width="3" stroke-linecap="butt" stroke-linejoin="round"/>
<line x1="200.4" x2="200.4" y1="275.1" y2="826.5" stroke="#6b1a3a" stroke-width="1.2" stroke-dasharray="2.8,2.9"/>
<line x1="252.5" x2="252.5" y1="309.3" y2="826.5" stroke="#6b1a3a" stroke-width="1.2" stroke-dasharray="2.8,2.9"/>
<line x1="325.6" x2="325.6" y1="343.3" y2="826.5" stroke="#6b1a3a" stroke-width="1.2" stroke-dasharray="2.8,2.9"/>
<line x1="773.0" x2="773.0" y1="309.1" y2="826.5" stroke="#a05a7c" stroke-width="2" stroke-dasharray="2.5,3.15"/>
<path d="M199.3,250.3 L441.0,250.3 L435.0,262.0 L441.0,273.6 L199.3,273.6 Z" fill="#b23058"/>
<path d="M251.0,284.4 L466.5,284.4 L460.5,296.1 L466.5,307.8 L251.0,307.8 Z" fill="#b23058"/>
<path d="M324.5,318.2 L454.5,318.2 L448.5,330.0 L454.5,341.8 L324.5,341.8 Z" fill="#b23058"/>
<path d="M772.0,284.3 L946.7,284.3 L940.7,296.0 L946.7,307.6 L772.0,307.6 Z" fill="#b23058"/>
<path d="M999.5,979 A20,20 0 0 1 979.5,999.5" fill="none" stroke="#8a8a8a" stroke-width="0.8"/>
<g id="logo" fill="#ef4639" stroke="none">
 <!-- f -->
 <path d="M897.3,55 L897.3,41.3 Q897.3,38.1 900.6,38.1 L902.1,38.1" fill="none" stroke="#ef4639" stroke-width="3.5"/>
 <rect x="893.2" y="42.5" width="8.9" height="2.7"/>
 <rect x="893.2" y="53.3" width="7.8" height="2.7"/>
 <!-- a -->
 <circle cx="908.5" cy="48.8" r="5.3" fill="none" stroke="#ef4639" stroke-width="3.9"/>
 <rect x="912.5" y="47.5" width="3.4" height="8.5"/>
 <rect x="912.5" y="53.3" width="3.7" height="2.7"/>
 <rect x="907.5" y="39.7" width="2.1" height="2.4"/>
 <path d="M908.3,49.2 L910.4,46.6" fill="none" stroke="#ef4639" stroke-width="1.3" stroke-linecap="round"/>
 <!-- s -->
 <path d="M927.5,46.3 C927.0,44.2 925.2,43.6 923.2,43.6 C920.8,43.6 919.3,44.7 919.3,46.2 C919.3,47.9 920.9,48.4 923.2,48.9 C925.8,49.5 927.5,50.2 927.5,52.0 C927.5,53.7 925.8,54.5 923.4,54.5 C921.0,54.5 919.1,53.6 918.7,51.5" fill="none" stroke="#ef4639" stroke-width="3.2"/>
 <!-- t -->
 <path d="M932.2,36.4 L932.2,51.3 Q932.2,54.4 935.4,54.4 L937,54.4" fill="none" stroke="#ef4639" stroke-width="3.5"/>
 <rect x="928.3" y="42.5" width="8.7" height="2.7"/>
 <!-- l -->
 <rect x="938.1" y="36.4" width="3.5" height="19.6"/>
 <rect x="936.9" y="36.4" width="3" height="2.6"/>
 <rect x="936.9" y="53.3" width="7.3" height="2.7"/>
 <!-- y -->
 <path d="M946.6,43 L952.6,55.2" fill="none" stroke="#ef4639" stroke-width="3.5"/>
 <path d="M957.6,43 L948.2,61.8" fill="none" stroke="#ef4639" stroke-width="3.5"/>
 <rect x="944" y="42.4" width="6.2" height="2.6"/>
 <rect x="954.2" y="42.4" width="6" height="2.6"/>
 <circle cx="959" cy="54.9" r="1.05" fill="#f4806f"/>
</g>

</svg>
<div id="txt" style="position:absolute;left:0;top:0;width:1000px;height:1000px;will-change:transform;">
<div class="t title">Traffic &amp; Download Speed: A Look at Internet Health</div>
<div class="t japan">Japan</div>
<div class="dot" style="left:40.5px;background:#f7212e"></div><div class="t lt" style="left:64.3px;letter-spacing:-0.1px">CASES</div>
<div class="dot" style="left:147px;background:#2bd9a4"></div><div class="t lt" style="left:171.2px;letter-spacing:0.1px">DOWNLOAD SPEED CHANGE %</div>
<div class="dot" style="left:395.5px;background:#11a6e2"></div><div class="t lt" style="left:419.5px;letter-spacing:0.15px">TRAFFIC CHANGE %</div>
<div class="t yl" style="top:400.3px;transform-origin:100% 50%;transform:scaleX(0.970)">125</div>
<div class="t yl" style="top:459.7px;transform-origin:100% 50%;transform:scaleX(1.030)">100</div>
<div class="t yl" style="top:520.2px;transform-origin:100% 50%;transform:scaleX(1.070)">75</div>
<div class="t yl" style="top:579.2px;transform-origin:100% 50%;transform:scaleX(1.130)">50</div>
<div class="t yl" style="top:640.0px;transform-origin:100% 50%;transform:scaleX(1.070)">25</div>
<div class="t yl" style="top:699.3px;transform-origin:100% 50%;transform:scaleX(1.050)">0</div>
<div class="t yl" style="top:759.2px;transform-origin:100% 50%;transform:scaleX(1.000)">-25</div>
<div class="t yl" style="top:819.2px;transform-origin:100% 50%;transform:scaleX(1.070)">-50</div>
<div class="t yr" style="top:400.3px;transform-origin:0 50%;transform:scaleX(1.165)">2,000</div>
<div class="t yr" style="top:505.0px;transform-origin:0 50%;transform:scaleX(1.088)">1,500</div>
<div class="t yr" style="top:609.0px;transform-origin:0 50%;transform:scaleX(1.112)">1,000</div>
<div class="t yr" style="top:714.0px;transform-origin:0 50%;transform:scaleX(1.175)">500</div>
<div class="t yr" style="top:818.0px;transform-origin:0 50%;transform:scaleX(1.231)">0</div>
<div class="t xl" style="left:30.3px;top:844.5px;transform:rotate(-45deg) scaleX(0.92)">Feb 18</div>
<div class="t xl" style="left:66.0px;top:844.5px;transform:rotate(-45deg) scaleX(0.92)">Feb 20</div>
<div class="t xl" style="left:101.7px;top:844.5px;transform:rotate(-45deg) scaleX(0.92)">Feb 22</div>
<div class="t xl" style="left:137.4px;top:844.5px;transform:rotate(-45deg) scaleX(0.92)">Feb 24</div>
<div class="t xl" style="left:173.2px;top:844.5px;transform:rotate(-45deg) scaleX(0.92)">Feb 26</div>
<div class="t xl" style="left:208.9px;top:844.5px;transform:rotate(-45deg) scaleX(0.92)">Feb 28</div>
<div class="t xl" style="left:244.6px;top:844.5px;transform:rotate(-45deg) scaleX(0.96)">Mar 1</div>
<div class="t xl" style="left:280.3px;top:844.5px;transform:rotate(-45deg) scaleX(0.96)">Mar 3</div>
<div class="t xl" style="left:316.0px;top:844.5px;transform:rotate(-45deg) scaleX(0.96)">Mar 5</div>
<div class="t xl" style="left:351.7px;top:844.5px;transform:rotate(-45deg) scaleX(0.96)">Mar 7</div>
<div class="t xl" style="left:387.4px;top:844.5px;transform:rotate(-45deg) scaleX(0.96)">Mar 9</div>
<div class="t xl" style="left:423.2px;top:844.5px;transform:rotate(-45deg) scaleX(0.96)">Mar 11</div>
<div class="t xl" style="left:458.9px;top:844.5px;transform:rotate(-45deg) scaleX(0.96)">Mar 13</div>
<div class="t xl" style="left:494.6px;top:844.5px;transform:rotate(-45deg) scaleX(0.96)">Mar 15</div>
<div class="t xl" style="left:530.3px;top:844.5px;transform:rotate(-45deg) scaleX(0.96)">Mar 17</div>
<div class="t xl" style="left:566.0px;top:844.5px;transform:rotate(-45deg) scaleX(0.96)">Mar 19</div>
<div class="t xl" style="left:601.7px;top:844.5px;transform:rotate(-45deg) scaleX(0.96)">Mar 21</div>
<div class="t xl" style="left:637.4px;top:844.5px;transform:rotate(-45deg) scaleX(0.96)">Mar 23</div>
<div class="t xl" style="left:673.2px;top:844.5px;transform:rotate(-45deg) scaleX(0.96)">Mar 25</div>
<div class="t xl" style="left:708.9px;top:844.5px;transform:rotate(-45deg) scaleX(0.96)">Mar 27</div>
<div class="t xl" style="left:744.6px;top:844.5px;transform:rotate(-45deg) scaleX(0.96)">Mar 29</div>
<div class="t xl" style="left:780.3px;top:844.5px;transform:rotate(-45deg) scaleX(0.96)">Mar 31</div>
<div class="t fl" style="left:209.6px;top:256.8px;transform:scaleX(0.9564)">NATIONAL HOLIDAY (LONG WEEKEND)</div>
<div class="t fl" style="left:260.0px;top:290.9px;transform:scaleX(0.9471)">SCHOOL CLOSURES ANNOUNCED</div>
<div class="t fl" style="left:332.8px;top:324.8px;transform:scaleX(0.9341)">SCHOOLS CLOSED</div>
<div class="t fl" style="left:784.6px;top:290.8px;transform:scaleX(0.9579)">STAY-AT-HOME ADVISORY</div>
<div class="t" style="left:41px;top:620px;width:0;height:0;"><div class="t" style="transform:translate(-50%,-50%) rotate(-90deg);font-size:14px;font-weight:bold;color:#17a673;letter-spacing:0.2px;left:0;top:0;">% Change</div></div>
<div class="t" style="left:953.5px;top:621.5px;width:0;height:0;"><div class="t" style="transform:translate(-50%,-50%) rotate(-90deg);font-size:14.5px;font-weight:bold;color:#d6141b;letter-spacing:0.15px;left:0;top:0;">Confirmed COVID-19 Cases</div></div>
<div class="t src" style="top:916px;font-weight:bold;font-size:11px;letter-spacing:-0.05px;">SOURCES</div>
<div class="t src" style="top:929.5px;font-style:italic;letter-spacing:0.02px">Significant dates on policy changes or announcements in each region were sourced from news and country, regional, state, and local announcements. The COVID</div>
<div class="t src" style="top:943px;font-style:italic;letter-spacing:-0.066px">Tracking Projects and 2019 Novel Coronavirus COVID-19 (2019-nCoV) Data Repository by Johns Hopkins CSSE informed the confirmed COVID-19 cases trajectory</div>
<div class="t src" style="top:956.5px;font-style:italic;">on the regional graphs.</div>
</div>
</body></html>
